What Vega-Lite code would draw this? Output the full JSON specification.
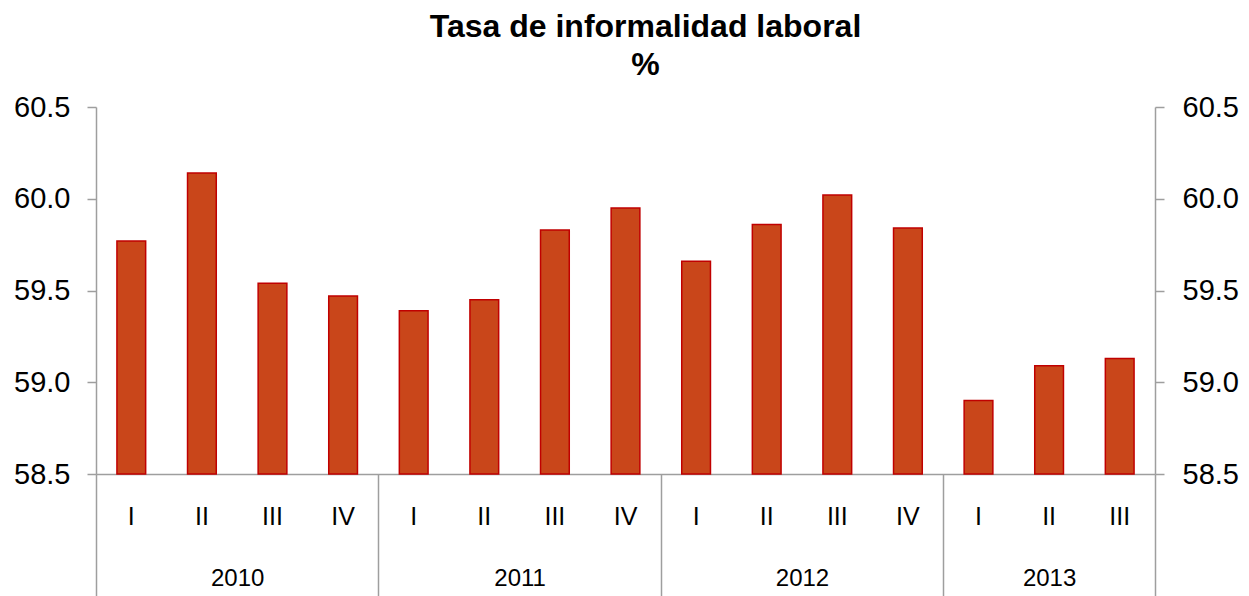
{
  "$schema": "https://vega.github.io/schema/vega-lite/v6.json",
  "width": 1059,
  "height": 367,
  "autosize": {"type": "none"},
  "padding": {"left": 96, "top": 107, "right": 94, "bottom": 122},
  "background": "white",
  "title": {
    "text": ["Tasa de informalidad laboral", "%"],
    "anchor": "middle",
    "dx": 20,
    "offset": 11,
    "font": "Liberation Sans",
    "fontSize": 32,
    "fontWeight": "bold",
    "lineHeight": 38,
    "color": "#000000"
  },
  "config": {
    "view": {"stroke": null},
    "axis": {
      "labelFont": "Liberation Sans",
      "labelColor": "#000000",
      "domainColor": "#9E9E9E",
      "tickColor": "#9E9E9E",
      "domainWidth": 1.5,
      "tickWidth": 1.5,
      "grid": false,
      "title": null
    }
  },
  "data": {
    "values": [
      {"periodo": "2010 I", "valor": 59.77},
      {"periodo": "2010 II", "valor": 60.14},
      {"periodo": "2010 III", "valor": 59.54},
      {"periodo": "2010 IV", "valor": 59.47},
      {"periodo": "2011 I", "valor": 59.39},
      {"periodo": "2011 II", "valor": 59.45},
      {"periodo": "2011 III", "valor": 59.83},
      {"periodo": "2011 IV", "valor": 59.95},
      {"periodo": "2012 I", "valor": 59.66},
      {"periodo": "2012 II", "valor": 59.86},
      {"periodo": "2012 III", "valor": 60.02},
      {"periodo": "2012 IV", "valor": 59.84},
      {"periodo": "2013 I", "valor": 58.9},
      {"periodo": "2013 II", "valor": 59.09},
      {"periodo": "2013 III", "valor": 59.13}
    ]
  },
  "encoding": {
    "x": {
      "field": "periodo",
      "type": "ordinal",
      "sort": null,
      "scale": {"paddingInner": 0.593, "paddingOuter": 0.2965}
    },
    "y": {
      "field": "valor",
      "type": "quantitative",
      "scale": {"domain": [58.5, 60.5], "nice": false, "zero": false}
    },
    "y2": {"datum": 58.5}
  },
  "layer": [
    {
      "mark": {"type": "bar", "fill": "#C9461A", "stroke": "#C00000", "strokeWidth": 1.5},
      "encoding": {
        "x": {
          "field": "periodo",
          "type": "ordinal",
          "sort": null,
          "axis": {
            "orient": "bottom",
            "ticks": false,
            "domain": true,
            "labelAngle": 0,
            "labelFontSize": 25,
            "labelPadding": 30,
            "labelExpr": "slice(datum.value, 5)"
          }
        },
        "y": {
          "field": "valor",
          "type": "quantitative",
          "axis": {
            "orient": "left",
            "values": [58.5, 59, 59.5, 60, 60.5],
            "format": ".1f",
            "labelFontSize": 29,
            "tickSize": 9,
            "labelPadding": 17
          }
        }
      }
    },
    {
      "mark": {"type": "bar", "opacity": 0},
      "encoding": {
        "x": {
          "field": "periodo",
          "type": "ordinal",
          "sort": null,
          "axis": {
            "orient": "bottom",
            "domain": false,
            "labelAngle": 0,
            "labelFontSize": 24,
            "bandPosition": 0,
            "tickOffset": -20.9,
            "tickSize": 122,
            "tickColor": {"condition": {"test": "slice(datum.value, 5) == 'I'", "value": "#9E9E9E"}, "value": "transparent"},
            "labelPadding": -30,
            "labelOffset": {"condition": {"test": "slice(datum.value, 0, 4) == '2013'", "value": 20.9}, "value": 56.2},
            "labelExpr": "slice(datum.value, 5) == 'II' ? slice(datum.value, 0, 4) : ''"
          }
        },
        "y": {
          "field": "valor",
          "type": "quantitative",
          "axis": {
            "orient": "right",
            "values": [58.5, 59, 59.5, 60, 60.5],
            "format": ".1f",
            "labelFontSize": 29,
            "tickSize": 9,
            "labelPadding": 18
          }
        }
      }
    },
    {
      "mark": {"type": "bar", "opacity": 0},
      "encoding": {
        "x": {
          "field": "periodo",
          "type": "ordinal",
          "sort": null,
          "axis": {
            "orient": "bottom",
            "domain": false,
            "labels": false,
            "bandPosition": 1,
            "tickOffset": 20.9,
            "tickSize": 122,
            "tickColor": {"condition": {"test": "datum.value == '2013 III'", "value": "#9E9E9E"}, "value": "transparent"}
          }
        },
        "y": {"field": "valor", "type": "quantitative", "axis": null}
      }
    }
  ],
  "resolve": {"axis": {"x": "independent", "y": "independent"}}
}
